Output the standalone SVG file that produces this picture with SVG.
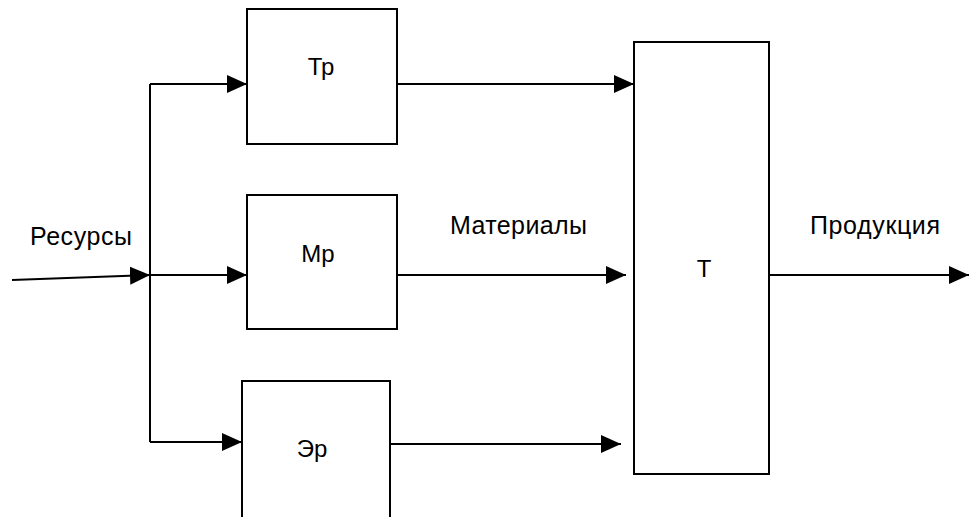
<svg xmlns="http://www.w3.org/2000/svg" width="969" height="517" viewBox="0 0 969 517">
<style>
.box{fill:#fff;stroke:#000;stroke-width:2}
.ln{fill:none;stroke:#000;stroke-width:2}
.t{font-family:"Liberation Sans",Arial,sans-serif;font-size:25px;fill:#000}
.b{font-family:"Liberation Sans",Arial,sans-serif;font-size:24px;fill:#000;text-anchor:middle}
</style>
<defs>
<marker id="ah" markerUnits="userSpaceOnUse" markerWidth="22" markerHeight="20" refX="20" refY="10" orient="auto">
<path d="M0,1 L20,10 L0,19 Z" fill="#000"/>
</marker>
</defs>
<rect width="969" height="517" fill="#fff"/>
<g id="connectors">
<line class="ln" x1="12" y1="280" x2="150" y2="275" marker-end="url(#ah)"/>
<line class="ln" x1="150" y1="84" x2="150" y2="442"/>
<line class="ln" x1="150" y1="84" x2="247" y2="84" marker-end="url(#ah)"/>
<line class="ln" x1="150" y1="275" x2="247" y2="275" marker-end="url(#ah)"/>
<line class="ln" x1="150" y1="442" x2="242" y2="442" marker-end="url(#ah)"/>
<line class="ln" x1="397" y1="84" x2="634" y2="84" marker-end="url(#ah)"/>
<line class="ln" x1="397" y1="275" x2="626" y2="275" marker-end="url(#ah)"/>
<line class="ln" x1="390" y1="444" x2="621" y2="444" marker-end="url(#ah)"/>
<line class="ln" x1="769" y1="275" x2="969" y2="275" marker-end="url(#ah)"/>
</g>
<g id="tr"><rect class="box" x="247" y="9" width="150" height="135"/><text class="b" x="321" y="75">Тр</text></g>
<g id="mr"><rect class="box" x="247" y="195" width="150" height="134"/><text class="b" x="318" y="262">Мр</text></g>
<g id="er"><rect class="box" x="242" y="381" width="148" height="150"/><text class="b" x="312" y="457">Эр</text></g>
<g id="t"><rect class="box" x="634" y="42" width="135" height="432"/><text class="b" x="704" y="277">Т</text></g>
<g id="labels">
<text class="t" x="30" y="245" textLength="102">Ресурсы</text>
<text class="t" x="450" y="234" textLength="137">Материалы</text>
<text class="t" x="810" y="234" textLength="130">Продукция</text>
</g>
</svg>
